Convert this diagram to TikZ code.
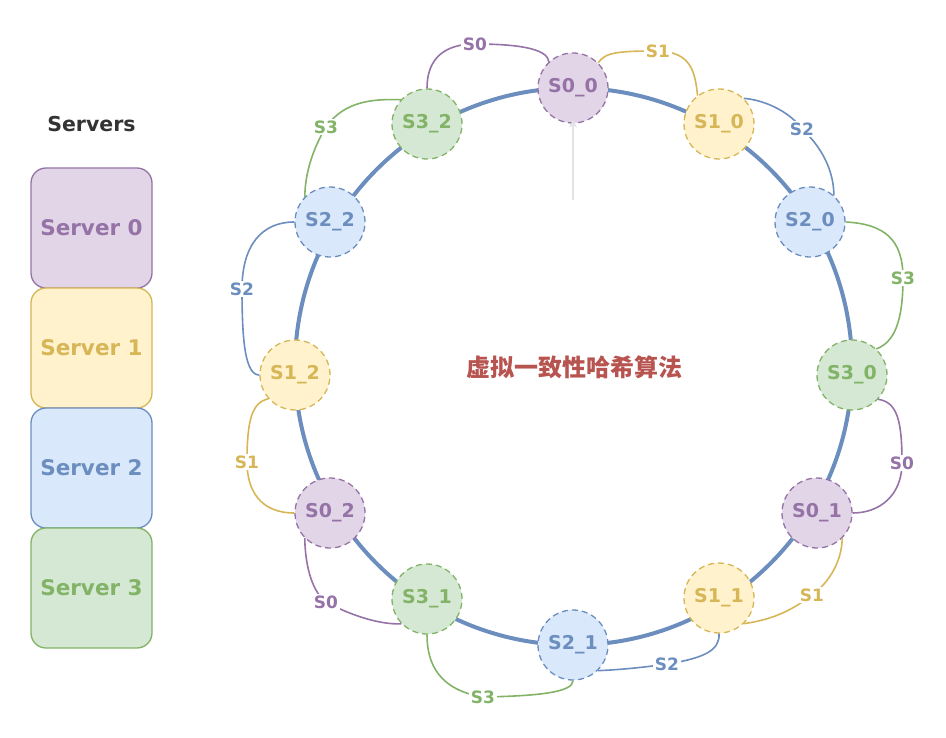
\documentclass[tikz,border=0pt]{standalone}
\usepackage{fontspec}
\setmainfont{DejaVu Sans}
\newfontfamily\cjkfont{Noto Sans CJK SC}
\usetikzlibrary{arrows.meta}
\definecolor{pS}{HTML}{9673A6}\definecolor{pF}{HTML}{E1D5E7}
\definecolor{yS}{HTML}{D6B656}\definecolor{yF}{HTML}{FFF2CC}
\definecolor{bS}{HTML}{6C8EBF}\definecolor{bF}{HTML}{DAE8FC}
\definecolor{gS}{HTML}{82B366}\definecolor{gF}{HTML}{D5E8D4}
\definecolor{rT}{HTML}{B85450}
\definecolor{arrowgray}{HTML}{E3E3E3}
\tikzset{
  vnode/.style={circle, minimum size=70pt, inner sep=0pt, line width=1.3pt,
    dash pattern=on 6pt off 4pt, font=\bfseries\fontsize{19}{21}\selectfont},
  vp/.style={vnode, draw=pS, fill=pF, text=pS},
  vy/.style={vnode, draw=yS, fill=yF, text=yS},
  vb/.style={vnode, draw=bS, fill=bF, text=bS},
  vg/.style={vnode, draw=gS, fill=gF, text=gS},
  lbl/.style={fill=white, inner sep=1.5pt, font=\bfseries\fontsize{17}{19}\selectfont},
  conn/.style={line width=1.6pt},
  srv/.style={rectangle, rounded corners=15pt, minimum width=121pt, minimum height=120pt,
    line width=1.3pt, font=\bfseries\fontsize{21.5}{24}\selectfont},
}
\begin{document}
\begin{tikzpicture}[x=1pt, y=-1pt]
\useasboundingbox (0,0) rectangle (946,738);
% ring
\draw[bS, line width=4pt] (573.5,366.5) circle[radius=278.5pt];
% legend
\node[font=\bfseries\fontsize{20.5}{22}\selectfont, text=black!80] (title) at (91.5,124) {Servers};
\node[srv, draw=pS, fill=pF, text=pS] (srv0) at (91.5,228) {Server 0};
\node[srv, draw=yS, fill=yF, text=yS] (srv1) at (91.5,348) {Server 1};
\node[srv, draw=bS, fill=bF, text=bS] (srv2) at (91.5,468) {Server 2};
\node[srv, draw=gS, fill=gF, text=gS] (srv3) at (91.5,588) {Server 3};
% virtual nodes
\node[vp] (s00) at (573,88) {S0\_0};
\node[vy] (s10) at (719,124) {S1\_0};
\node[vb] (s20) at (810,222) {S2\_0};
\node[vg] (s30) at (852,375) {S3\_0};
\node[vp] (s01) at (817,513) {S0\_1};
\node[vy] (s11) at (719,598) {S1\_1};
\node[vb] (s21) at (573,645) {S2\_1};
\node[vg] (s31) at (427,599) {S3\_1};
\node[vp] (s02) at (330,513) {S0\_2};
\node[vy] (s12) at (295,375) {S1\_2};
\node[vb] (s22) at (330,222) {S2\_2};
\node[vg] (s32) at (427,124) {S3\_2};
% center text
\node[text=rT, font=\cjkfont\bfseries\fontsize{24}{26}\selectfont] (title2) at (574,367) {虚拟一致性哈希算法};
% gray arrow
\coordinate (arrstart) at (573,200);
\draw[arrowgray, line width=2pt, -{Stealth[length=8pt,width=8pt,open]}] (arrstart) -- ([yshift=4pt]s00.south);
% connectors
\draw[conn, pS] (s32.90) .. controls (427,58) and (445,44) .. (475,44) node[lbl, text=pS] (c1) {S0}
  .. controls (515,44) and (548,48) .. (s00.133);
\draw[conn, yS] (s00.45) .. controls (605,52) and (620,51) .. (658,51) node[lbl, text=yS] (c2) {S1}
  .. controls (690,52) and (695,70) .. (s10.127);
\draw[conn, bS] (s10.46) .. controls (765,100) and (790,112) .. (802,129) node[lbl, text=bS] (c3) {S2}
  .. controls (825,150) and (834,175) .. (s20.48);
\draw[conn, gS] (s20.0) .. controls (885,224) and (903,240) .. (903,278) node[lbl, text=gS] (c4) {S3}
  .. controls (903,320) and (895,342) .. (s30.47);
\draw[conn, pS] (s30.-43) .. controls (897,402) and (902,420) .. (902,463) node[lbl, text=pS] (c5) {S0}
  .. controls (902,495) and (880,513) .. (s01.0);
\draw[conn, yS] (s01.-45) .. controls (842,560) and (830,582) .. (812,595) node[lbl, text=yS] (c6) {S1}
  .. controls (790,612) and (770,620) .. (s11.-46);
\draw[conn, bS] (s11.-90) .. controls (720,650) and (705,658) .. (667,664) node[lbl, text=bS] (c7) {S2}
  .. controls (640,668) and (615,670) .. (s21.-46);
\draw[conn, gS] (s21.-90) .. controls (573,692) and (540,696) .. (483,697) node[lbl, text=gS] (c8) {S3}
  .. controls (440,690) and (427,665) .. (s31.-90);
\draw[conn, pS] (s31.224) .. controls (380,625) and (350,615) .. (326,602) node[lbl, text=pS] (c9) {S0}
  .. controls (310,590) and (305,560) .. (s02.225);
\draw[conn, yS] (s02.180) .. controls (260,513) and (247,490) .. (247,462) node[lbl, text=yS] (c10) {S1}
  .. controls (247,420) and (252,402) .. (s12.222);
\draw[conn, bS] (s12.180) .. controls (245,375) and (242,340) .. (242,289) node[lbl, text=bS] (c11) {S2}
  .. controls (242,245) and (262,222) .. (s22.180);
\draw[conn, gS] (s22.135) .. controls (305,175) and (312,150) .. (326,127) node[lbl, text=gS] (c12) {S3}
  .. controls (345,100) and (375,99) .. (s32.137);
\end{tikzpicture}
\end{document}
